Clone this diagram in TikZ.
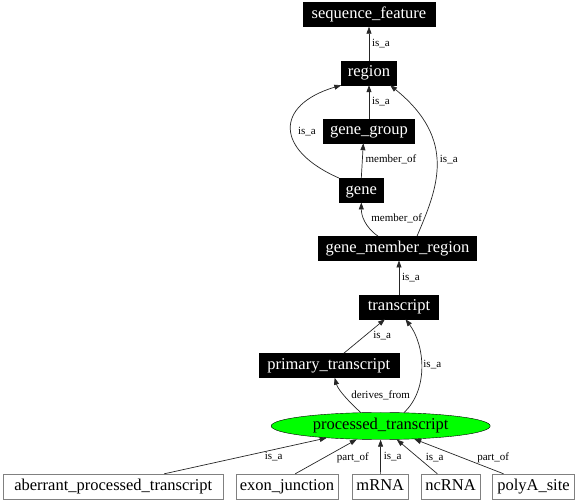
\documentclass[tikz,border=0pt]{standalone}
\usepackage{fontspec}
\setmainfont{Liberation Serif}
\usetikzlibrary{arrows.meta,shapes.geometric}
\tikzset{
    term/.style={
                draw=black,
                fill=black,
                text=white,
                font=\fontsize{16.5}{19}\selectfont,
                inner xsep=2pt,
                inner ysep=0pt,
                minimum height=24pt,
                text height=11.5pt,
                text depth=4pt
            },
        leaf/.style={
                term,
                draw=black!50,
                fill=white,
                text=black,
                minimum height=25pt
            },
        focus/.style={
                ellipse,
                draw=black,
                fill=green,
                font=\fontsize{16.5}{19}\selectfont,
                inner sep=0pt,
                minimum width=219pt,
                minimum height=27pt
            },
        relation/.style={
                draw=black!85,
                line width=0.7pt,
                -{Triangle[length=7pt,width=5pt]}
            },
        reltext/.style={
                midway,
                anchor=west,
                inner sep=0pt,
                font=\fontsize{11}{13}\selectfont
            },
}

\begin{document}
\begin{tikzpicture}[x=1pt,y=-1pt]
  \useasboundingbox (0,0) rectangle (576,502);
  % Terms
  \node[term,minimum width=132pt] (seqfeature) at (369,14.5) {sequence\_feature};
  \node[term,minimum width=55pt] (region) at (369,73) {region};
  \node[term,minimum width=91pt] (genegroup) at (369,131) {gene\_group};
  \node[term,minimum width=44pt] (gene) at (361.3,190.3) {gene};
  \node[term,minimum width=158pt] (gmr) at (397.5,248.3) {gene\_member\_region};
  \node[term,minimum width=79pt] (transcript) at (399,307) {transcript};
  \node[term,minimum width=140pt] (primary) at (328.7,365.5) {primary\_transcript};
  % Focus term
  \node[focus] (processed) at (380.7,426) {processed\_transcript};
  % Children
  \node[leaf,minimum width=220pt] (aberrant) at (113.3,486.5) {aberrant\_processed\_transcript};
  \node[leaf,minimum width=102pt] (exonjunction) at (287,486.5) {exon\_junction};
  \node[leaf,minimum width=56pt] (mrna) at (380.3,486.5) {mRNA};
  \node[leaf,minimum width=59pt] (ncrna) at (450.5,486.5) {ncRNA};
  \node[leaf,minimum width=82pt] (polyasite) at (533.5,486.5) {polyA\_site};

  % Relations above the focus
  \draw[relation] (region) -- node[reltext,shift={(2.7,0)}]{is\_a} (seqfeature);
  \draw[relation] (genegroup) -- node[reltext,shift={(2.7,0)}]{is\_a} (region);
  \draw[relation] (gene.north west) .. controls +(-64,-28) and +(-67,20) .. node[reltext,shift={(6.7,2.6)}]{is\_a} (region.south west);
  \draw[relation] (gene.north) -- node[reltext,shift={(3,-1)}]{member\_of} (genegroup.245);
  \draw[relation] (gmr.148) .. controls +(-13,-9) and +(0,13) .. node[reltext,shift={(6.3,-2)}]{member\_of} (gene.south);
  \draw[relation] (gmr.32) .. controls +(20,-47) and +(68,55) .. node[reltext,shift={(3,-4)}]{is\_a} (region.330);
  \draw[relation] (transcript.north) -- node[reltext,shift={(2.7,0)}]{is\_a} (transcript.north |- gmr.south);
  \draw[relation] (primary.39) -- node[reltext,shift={(8.6,-0.7)}]{is\_a} (transcript.221);
  \draw[relation] (processed.30) .. controls +(25,-23) and +(19.5,26) .. node[reltext,shift={(1.7,-2)}]{is\_a} (transcript.298);
  \draw[relation] (processed.146) .. controls +(-11,-10) and +(3.4,12.3) .. node[reltext,shift={(6.2,-1)}]{derives\_from} (primary.296);

  % Relations below the focus
  \draw[relation] (aberrant.14) -- node[reltext,shift={(19,1)}]{is\_a} (processed);
  \draw[relation] (exonjunction.57) -- node[reltext,shift={(10.6,1)}]{part\_of} (processed);
  \draw[relation] (mrna) -- node[reltext,shift={(3,0)}]{is\_a} (processed);
  \draw[relation] (ncrna.136) -- node[reltext,shift={(8.5,1)}]{is\_a} (processed);
  \draw[relation] (polyasite.157) -- node[reltext,shift={(18,1)}]{part\_of} (processed);
\end{tikzpicture}
\end{document}
